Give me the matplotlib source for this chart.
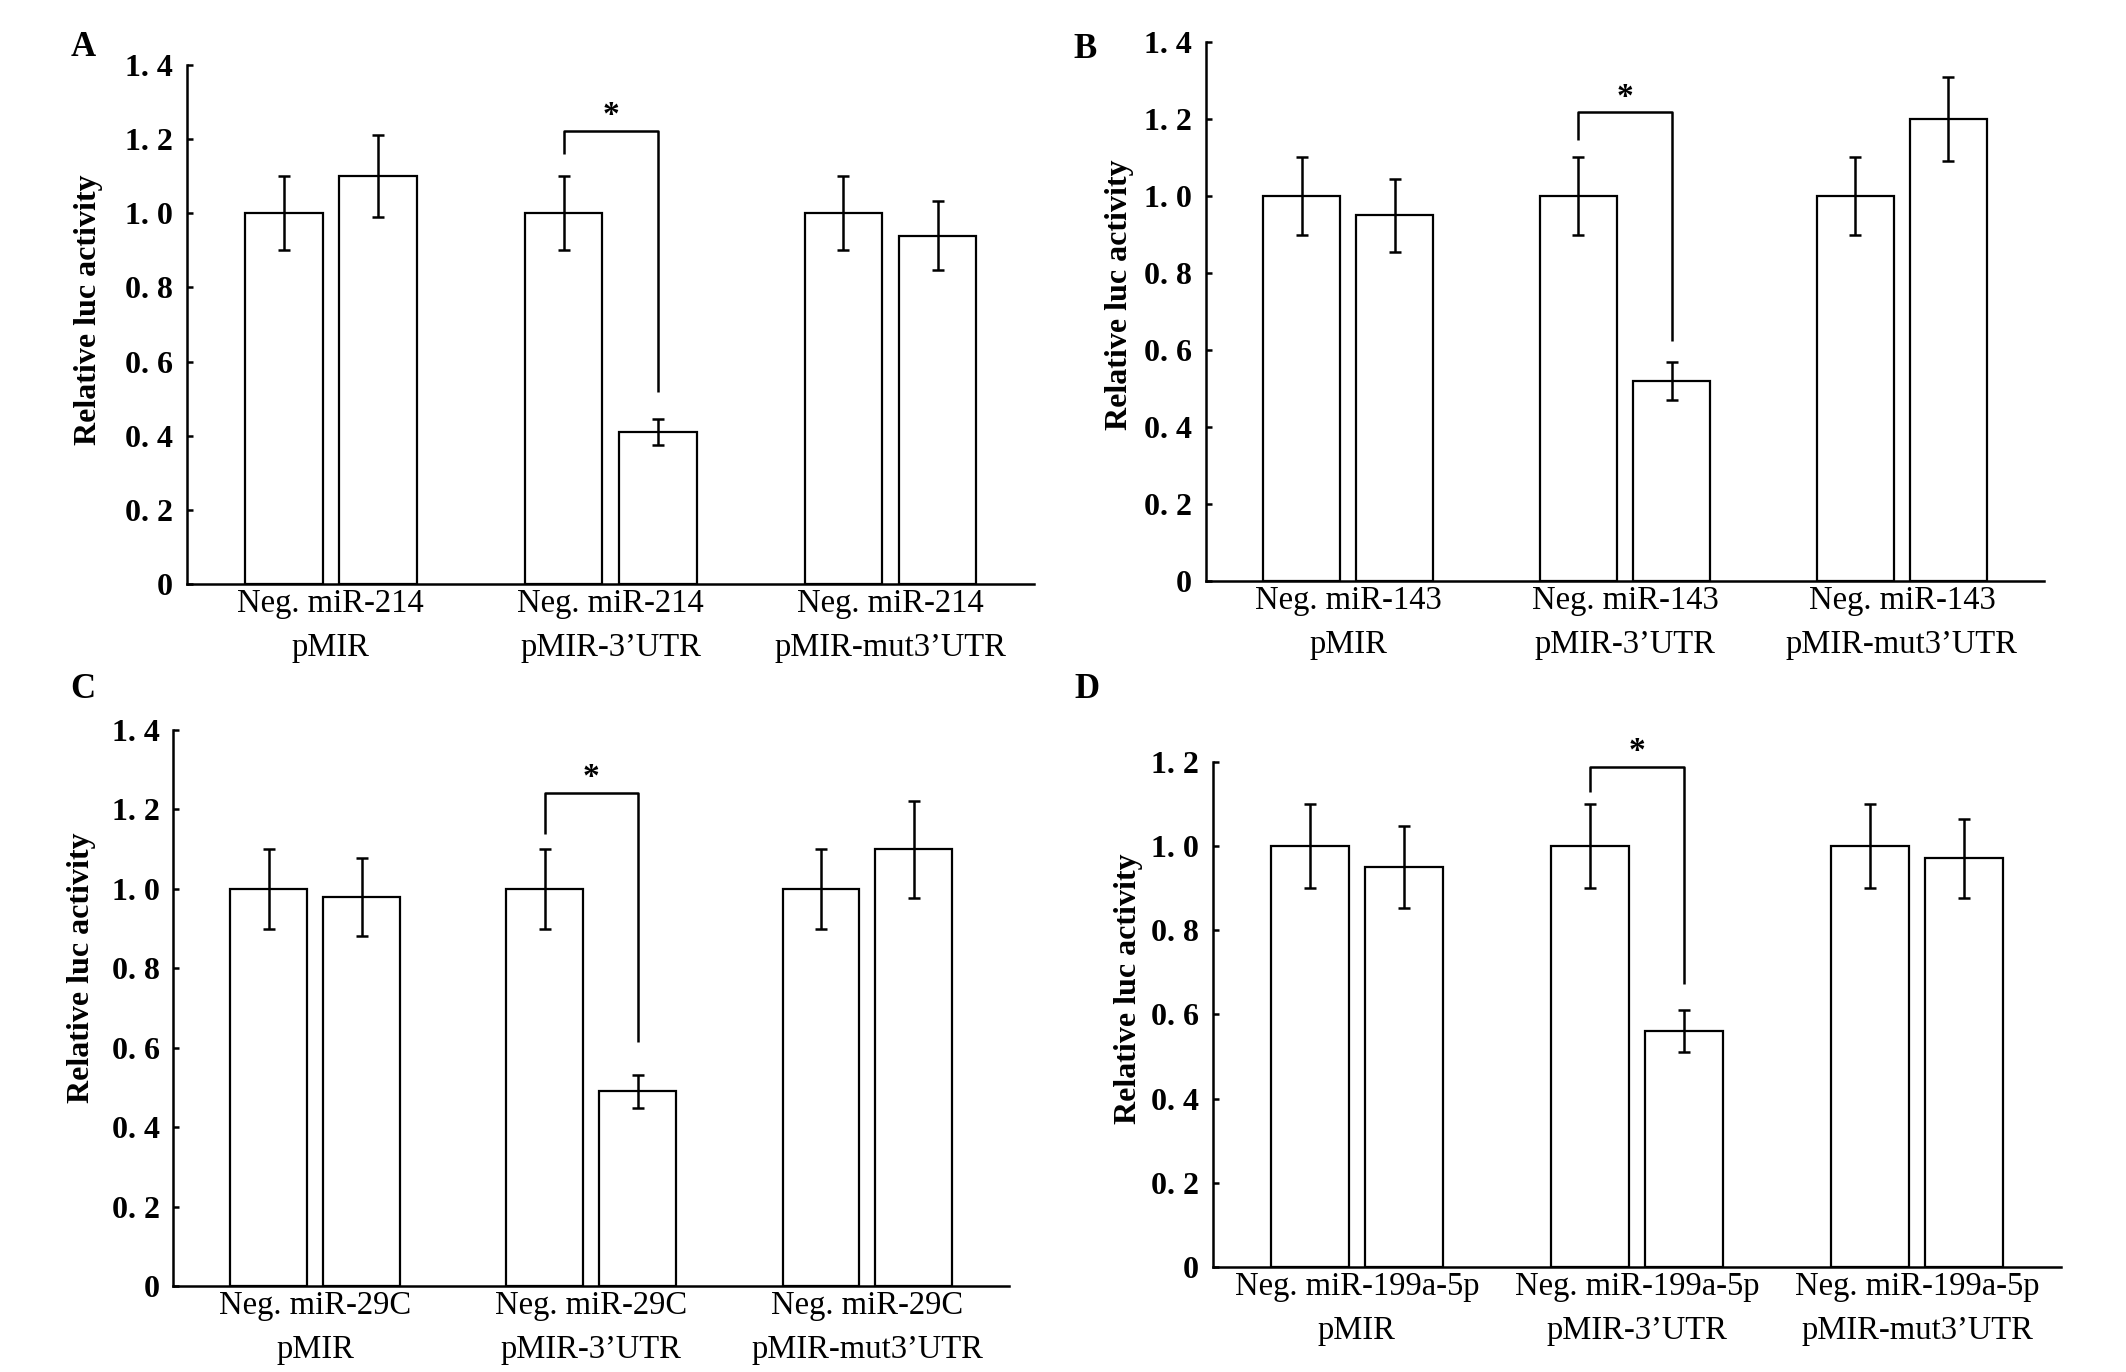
import matplotlib
matplotlib.use("Agg")
import matplotlib.pyplot as plt
import numpy as np

plt.rcParams['font.family'] = ['Liberation Serif', 'DejaVu Serif']

# ---------------- data ----------------
panel_letters = ["A", "B", "C", "D"]
mirnas = ["miR-214", "miR-143", "miR-29C", "miR-199a-5p"]
constructs = ["pMIR", "pMIR-3\u2019UTR", "pMIR-mut3\u2019UTR"]

neg_A = [1.00, 1.00, 1.00]
mir_A = [1.10, 0.41, 0.94]
neg_err_A = [0.10, 0.10, 0.10]
mir_err_A = [0.11, 0.036, 0.092]

neg_B = [1.00, 1.00, 1.00]
mir_B = [0.95, 0.52, 1.20]
neg_err_B = [0.10, 0.10, 0.10]
mir_err_B = [0.095, 0.049, 0.11]

neg_C = [1.00, 1.00, 1.00]
mir_C = [0.98, 0.49, 1.10]
neg_err_C = [0.10, 0.10, 0.10]
mir_err_C = [0.098, 0.042, 0.122]

neg_D = [1.00, 1.00, 1.00]
mir_D = [0.95, 0.56, 0.97]
neg_err_D = [0.10, 0.10, 0.10]
mir_err_D = [0.097, 0.05, 0.094]

yticks_ABC = [0, 0.2, 0.4, 0.6, 0.8, 1.0, 1.2, 1.4]
yticks_D = [0, 0.2, 0.4, 0.6, 0.8, 1.0, 1.2]
ylabels_ABC = ["0", "0. 2", "0. 4", "0. 6", "0. 8", "1. 0", "1. 2", "1. 4"]
ylabels_D = ["0", "0. 2", "0. 4", "0. 6", "0. 8", "1. 0", "1. 2"]

# significance bracket: (top, left leg bottom, right leg bottom, star y)
sig_A = (1.223, 1.16, 0.517, 1.265)
sig_B = (1.218, 1.146, 0.624, 1.255)
sig_C = (1.242, 1.137, 0.614, 1.28)
sig_D = (1.188, 1.129, 0.672, 1.223)

panels = [
    dict(neg=neg_A, mir=mir_A, ne=neg_err_A, me=mir_err_A, yt=yticks_ABC, yl=ylabels_ABC, ymax=1.4, sig=sig_A,
         rect=[0.0880, 0.5743, 0.4864 - 0.0880, 0.9526 - 0.5743], lab=(-0.099, 0.528), letter=(83, 48)),
    dict(neg=neg_B, mir=mir_B, ne=neg_err_B, me=mir_err_B, yt=yticks_ABC, yl=ylabels_ABC, ymax=1.4, sig=sig_B,
         rect=[0.5673, 0.5765, 0.9614 - 0.5673, 0.9694 - 0.5765], lab=(-0.086, 0.531), letter=(1085, 50)),
    dict(neg=neg_C, mir=mir_C, ne=neg_err_C, me=mir_err_C, yt=yticks_ABC, yl=ylabels_ABC, ymax=1.4, sig=sig_C,
         rect=[0.0816, 0.0627, 0.4746 - 0.0816, 0.4679 - 0.0627], lab=(-0.093, 0.572), letter=(83, 689)),
    dict(neg=neg_D, mir=mir_D, ne=neg_err_D, me=mir_err_D, yt=yticks_D, yl=ylabels_D, ymax=1.2, sig=sig_D,
         rect=[0.5706, 0.0765, 0.9694 - 0.5706, 0.4449 - 0.0765], lab=(-0.0825, 0.55), letter=(1087, 689)),
]

W, H = 2126, 1372
fig = plt.figure(figsize=(W / 100, H / 100), dpi=100)

x = np.arange(1, 4)
bw = 0.278
off = 0.168
lw = 1.8

for i, p in enumerate(panels):
    ax = fig.add_axes(p["rect"])
    ax.bar(x - off, p["neg"], bw, color="white", edgecolor="black", linewidth=1.6, zorder=2)
    ax.bar(x + off, p["mir"], bw, color="white", edgecolor="black", linewidth=1.6, zorder=2)
    ax.errorbar(x - off, p["neg"], yerr=p["ne"], fmt="none", ecolor="black",
                elinewidth=lw, capsize=4.3, capthick=lw, zorder=3)
    ax.errorbar(x + off, p["mir"], yerr=p["me"], fmt="none", ecolor="black",
                elinewidth=lw, capsize=4.3, capthick=lw, zorder=3)

    top, lbot, rbot, sy = p["sig"]
    xl, xr = x[1] - off, x[1] + off
    ax.plot([xl, xl, xr, xr], [lbot, top, top, rbot], color="black", lw=lw,
            solid_capstyle="butt", clip_on=False, zorder=4)
    ax.text((xl + xr) / 2, sy, "*", ha="center", va="center", fontsize=24,
            fontweight="bold", clip_on=False)

    ax.set_xlim(0.487, 3.513)
    ax.set_ylim(0, p["ymax"])
    ax.set_yticks(p["yt"])
    ax.set_yticklabels(p["yl"], fontsize=23, fontweight="bold")
    ax.set_xticks(x)
    ax.set_xticklabels(["Neg. " + mirnas[i] + "\n" + c for c in constructs],
                       fontsize=23.5, linespacing=1.6)
    ax.tick_params(axis="x", length=0, pad=3)
    ax.tick_params(axis="y", direction="in", length=4.3, width=lw, pad=10)
    for s in ["top", "right"]:
        ax.spines[s].set_visible(False)
    for s in ["left", "bottom"]:
        ax.spines[s].set_linewidth(lw)
    ax.set_ylabel("Relative luc activity", fontsize=23, fontweight="bold")
    ax.yaxis.set_label_coords(*p["lab"])

    lx, ly = p["letter"]
    fig.text(lx / W, 1 - ly / H, panel_letters[i], fontsize=25, fontweight="bold",
             ha="center", va="center")

fig.savefig("out.png", dpi=100)
